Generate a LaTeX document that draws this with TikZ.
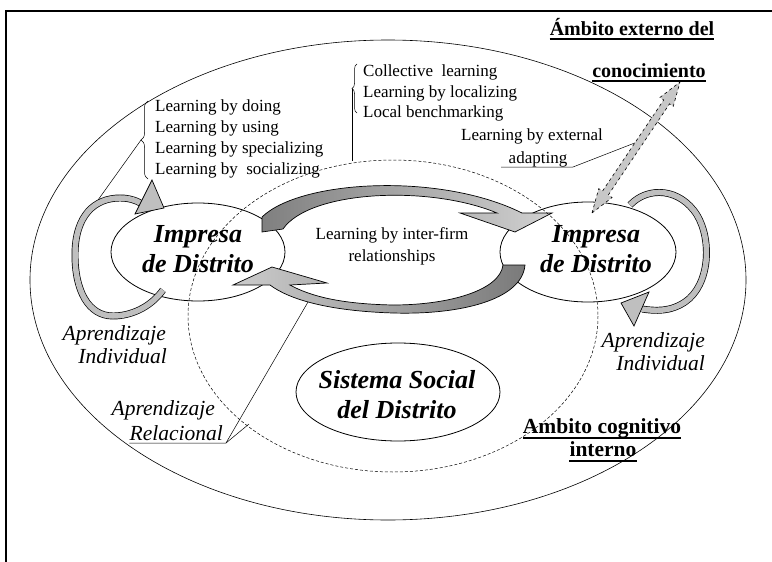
\documentclass[tikz,border=0pt]{standalone}
\usepackage{fontspec}
\setmainfont{Liberation Serif}
\usetikzlibrary{calc,decorations.pathreplacing}

\begin{document}
\begin{tikzpicture}[x=1pt,y=-1pt,
		lbl/.style={inner sep=0pt, font=\fontsize{17}{21}\selectfont},
		ital/.style={inner sep=0pt, font=\fontsize{21.5}{24}\selectfont\itshape},
		bigit/.style={inner sep=0pt, align=center, font=\fontsize{26}{30}\selectfont\bfseries\itshape},
		ambito/.style={inner sep=0pt, font=\fontsize{20}{24}\selectfont\bfseries},
		loopband/.style={double=black!25, double distance=5.5pt, line width=0.7pt},
		loophead/.style={fill=black!25, line width=0.7pt, line join=miter}
	]

	\useasboundingbox (0,0) rectangle (772,562);
	\draw[line width=2pt] (6,562) -- (6,11) -- (772,11);

	\draw[line width=0.6pt] (388,280) ellipse [x radius=358, y radius=240];

	\draw[line width=0.8pt] (198,252) ellipse [x radius=87, y radius=49];
	\draw[line width=0.8pt] (588,252) ellipse [x radius=88, y radius=50];
	\draw[line width=0.8pt] (398,392) ellipse [x radius=102, y radius=49];

	\draw[left color=black!50, right color=black!18, line width=0.7pt, line join=miter]
		(262,217) .. controls (300,180) and (440,172) .. (522,213) -- (552,213) -- (515,232) -- (460,213) -- (497,213)
		.. controls (430,185) and (310,190) .. (283,229) -- (262,232) -- cycle;

	\draw[left color=black!20, right color=black!52, line width=0.7pt, line join=miter]
		(503,265) -- (525,265) .. controls (522,300) and (460,315) .. (393,313)
		.. controls (330,311) and (290,300) .. (270,285) -- (233,285) -- (272,267) -- (327,283) -- (290,285)
		.. controls (310,296) and (340,304) .. (393,305) .. controls (450,305) and (500,290) .. (503,265) -- cycle;

	\draw[loopband] (163,290) .. controls (150,308) and (130,316) .. (113,316) .. controls (88,316) and (75,290) .. (75,255)
		.. controls (75,215) and (95,198) .. (120,198) .. controls (132,198) and (140,202) .. (146,207);
	\draw[loophead] (135,214) -- (152,180) -- (164,208) -- cycle;

	\draw[loopband] (630,205) .. controls (648,186) and (680,188) .. (697,215) .. controls (712,240) and (710,285) .. (685,302)
		.. controls (670,312) and (655,311) .. (642,309);
	\draw[loophead] (621,303) -- (649,292) -- (634,326) -- cycle;

	\coordinate (ext-lo) at (592,213);
	\coordinate (ext-hi) at (680,82);
	\coordinate (lo-b) at ($(ext-lo)!24pt!(ext-hi)$);
	\coordinate (hi-b) at ($(ext-hi)!24pt!(ext-lo)$);
	\draw[dashed, fill=black!22, line width=0.6pt, line join=miter]
		(ext-lo) -- ($(lo-b)!8pt!90:(ext-hi)$) -- ($(lo-b)!3.5pt!90:(ext-hi)$) -- ($(hi-b)!3.5pt!-90:(ext-lo)$)
		-- ($(hi-b)!8pt!-90:(ext-lo)$) -- (ext-hi) -- ($(hi-b)!8pt!90:(ext-lo)$) -- ($(hi-b)!3.5pt!90:(ext-lo)$)
		-- ($(lo-b)!3.5pt!-90:(ext-hi)$) -- ($(lo-b)!8pt!-90:(ext-hi)$) -- cycle;

	\draw[dash pattern=on 3pt off 2pt, line width=0.5pt] (393,316) ellipse [x radius=205, y radius=156];

	\node[bigit] (firm-left) at (198,249) {Impresa\\de Distrito};
	\node[bigit] (firm-right) at (596,249) {Impresa\\de Distrito};
	\node[bigit] (social) at (397,395) {Sistema Social\\del Distrito};
	\node[lbl, align=center, font=\fontsize{17}{22}\selectfont] (interfirm) at (392,246) {Learning by inter-firm\\relationships};

	\node[lbl, anchor=base west] (ind-1) at (155,111) {Learning by doing};
	\node[lbl, anchor=base west] (ind-2) at (155,132) {Learning by using};
	\node[lbl, anchor=base west] (ind-3) at (155,153) {Learning by specializing};
	\node[lbl, anchor=base west] (ind-4) at (155,174) {Learning by\ \ socializing};
	\draw[decorate, decoration={brace, amplitude=7pt}, line width=0.5pt] (148,179) -- (148,101);
	\coordinate (brace-ind) at (141,140);
	\coordinate (loop-left) at (98,200);
	\draw[line width=0.5pt] (brace-ind) -- (loop-left);

	\node[lbl, anchor=base west] (col-1) at (363,76) {Collective\ \ learning};
	\node[lbl, anchor=base west] (col-2) at (363,97) {Learning by localizing};
	\node[lbl, anchor=base west] (col-3) at (363,117) {Local benchmarking};
	\draw[decorate, decoration={brace, amplitude=5pt}, line width=0.5pt] (357,113) -- (357,64);
	\coordinate (brace-col) at (352,89);
	\coordinate (circle-top) at (352,161);
	\draw[line width=0.5pt] (brace-col) -- (circle-top);

	\node[lbl, anchor=base] (ext-1) at (532,140) {Learning by external};
	\node[lbl, anchor=base] (ext-2) at (538,163) {adapting};
	\coordinate (ext-start) at (501,167);
	\coordinate (ext-knee) at (573,167);
	\coordinate (ext-mid) at ($(ext-lo)!0.52!(ext-hi)$);
	\draw[line width=0.5pt] (ext-start) -- (ext-knee) -- ($(ext-mid)!3.5pt!90:(ext-hi)$);

	\node[ital, anchor=base east] (apl-1) at (166,340) {Aprendizaje};
	\node[ital, anchor=base east] (apl-2) at (167,363) {Individual};
	\node[ital, anchor=base east] (apr-1) at (705,347) {Aprendizaje};
	\node[ital, anchor=base east] (apr-2) at (705,370) {Individual};

	\node[ital, anchor=base east] (rel-1) at (215,415) {Aprendizaje};
	\node[ital, anchor=base east] (rel-2) at (223,440) {Relacional};
	\coordinate (rel-knee) at (226,443);
	\coordinate (rel-arrow) at (308,302);
	\coordinate (rel-circle) at (249,424);
	\draw[line width=0.5pt] ([yshift=-3pt]rel-2.base west) -- (rel-knee) -- (rel-arrow);
	\draw[line width=0.5pt] (rel-knee) -- (rel-circle);

	\node[ambito, anchor=base] (ext-title) at (632,35) {Ámbito externo del};
	\draw[line width=1.3pt] ([yshift=-4pt]ext-title.base west) -- ([yshift=-4pt]ext-title.base east);
	\node[ambito, anchor=base] (ext-title-2) at (649,77) {conocimiento};
	\draw[line width=1.3pt] ([yshift=-4pt]ext-title-2.base west) -- ([yshift=-4pt]ext-title-2.base east);

	\node[ambito, anchor=base, font=\fontsize{21.5}{24}\selectfont\bfseries] (int-title) at (602,433) {Ambito cognitivo};
	\draw[line width=2.8pt] ([yshift=-5pt]int-title.base west) -- ([yshift=-5pt]int-title.base east);
	\node[ambito, anchor=base, font=\fontsize{21.5}{24}\selectfont\bfseries] (int-title-2) at (603,456) {interno};
	\draw[line width=2.8pt] ([yshift=-5pt]int-title-2.base west) -- ([yshift=-5pt]int-title-2.base east);
\end{tikzpicture}
\end{document}
